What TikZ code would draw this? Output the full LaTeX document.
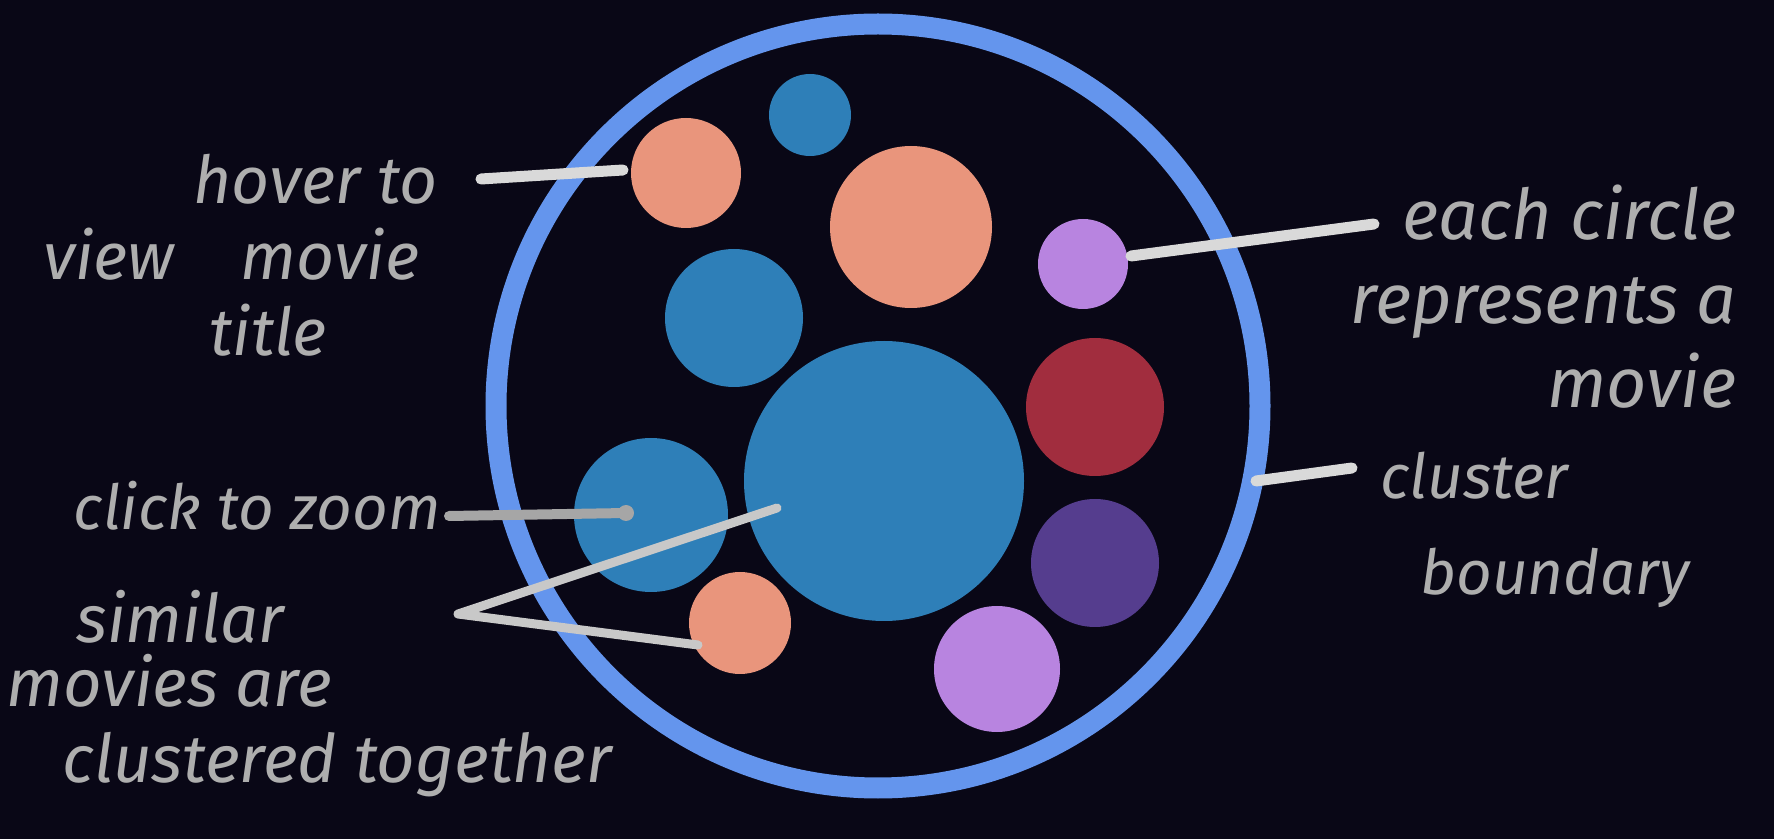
\documentclass[tikz,border=0pt]{standalone}
\usepackage{fontspec}
\setmainfont{Fira Sans}
\definecolor{night}{HTML}{090716}
\definecolor{ring}{HTML}{6495ED}
\definecolor{steel}{HTML}{2E7FB8}
\definecolor{salmon}{HTML}{E9957C}
\definecolor{lilac}{HTML}{B884E0}
\definecolor{wine}{HTML}{A12D3E}
\definecolor{plum}{HTML}{553D8E}
\definecolor{notegray}{HTML}{AEAEAE}
\definecolor{pointgray}{HTML}{D9D9D9}
\definecolor{forkgray}{HTML}{C8C8C8}
\definecolor{clickgray}{HTML}{A6A6A6}
\tikzset{
  movie/.style={circle, inner sep=0pt, minimum size=#1},
  note/.style n args={2}{text=notegray, inner sep=0pt,
    font=\itshape\fontsize{#1}{#2}\selectfont},
  pointer/.style={draw=pointgray, line width=5.5pt, line cap=round}
}

\begin{document}
\begin{tikzpicture}[x=0.5pt, y=-0.5pt]
  \fill[night] (0,0) rectangle (1774,839);
  \useasboundingbox (0,0) rectangle (1774,839);

  % cluster and its movies
  \node[circle, draw=ring, line width=10.5pt, inner sep=0pt, minimum size=382pt] (cluster) at (878,406) {};
  \node[movie=41pt, fill=steel]  (m1)  at (810,115) {};
  \node[movie=55pt, fill=salmon] (m2)  at (686,173) {};
  \node[movie=81pt, fill=salmon] (m3)  at (911,227) {};
  \node[movie=45pt, fill=lilac]  (m4)  at (1083,264) {};
  \node[movie=69pt, fill=steel]  (m5)  at (734,318) {};
  \node[movie=140pt, fill=steel] (m6)  at (884,481) {};
  \node[movie=69pt, fill=wine]   (m7)  at (1095,407) {};
  \node[movie=77pt, fill=steel]  (m8)  at (651,515) {};
  \node[movie=64pt, fill=plum]   (m9)  at (1095,563) {};
  \node[movie=51pt, fill=salmon] (m10) at (740,623) {};
  \node[movie=63pt, fill=lilac]  (m11) at (997,669) {};

  % notes
  \node[note={33pt}{38pt}, align=left, anchor=west] (hover) at (43,255)
    {\hspace*{75pt}hover to\\view\quad movie\\\hspace*{83pt}title};
  \node[note={35pt}{42pt}, align=right, anchor=east] (each) at (1737,297)
    {each circle\\represents a\\movie};
  \node[note={31pt}{40pt}, align=left, anchor=west] (bound) at (1380,530)
    {cluster\\[8pt]\hspace*{20pt}boundary};
  \node[note={31pt}{40pt}, anchor=base east] (click) at (441,530) {click to zoom};
  \node[note={33.5pt}{40pt}, align=left, anchor=west] (similar) at (6,694)
    {\hspace*{35pt}similar\\[-8pt]movies are\\[-2pt]\hspace*{28pt}clustered together};

  % pointers
  \coordinate (hoverfrom) at (481,179);
  \coordinate (hoverto) at (623,170);
  \coordinate (eachfrom) at (1131,256);
  \coordinate (eachto) at (1374,224);
  \coordinate (boundfrom) at (1256,481);
  \coordinate (boundto) at (1352,468);
  \coordinate (clickfrom) at (449,516);
  \coordinate (clickto) at (626,513);
  \coordinate (fork) at (458,614);
  \coordinate (forkbig) at (777,508);
  \coordinate (forksmall) at (698,645);

  \draw[pointer] (hoverfrom) -- (hoverto);
  \draw[pointer] (eachfrom) -- (eachto);
  \draw[pointer] (boundfrom) -- (boundto);
  \draw[pointer, draw=clickgray, line width=5pt] (clickfrom) -- (clickto);
  \fill[clickgray] (clickto) circle (4pt);
  \draw[pointer, draw=forkgray, line width=4.5pt, line join=round] (forkbig) -- (fork) -- (forksmall);
\end{tikzpicture}
\end{document}
